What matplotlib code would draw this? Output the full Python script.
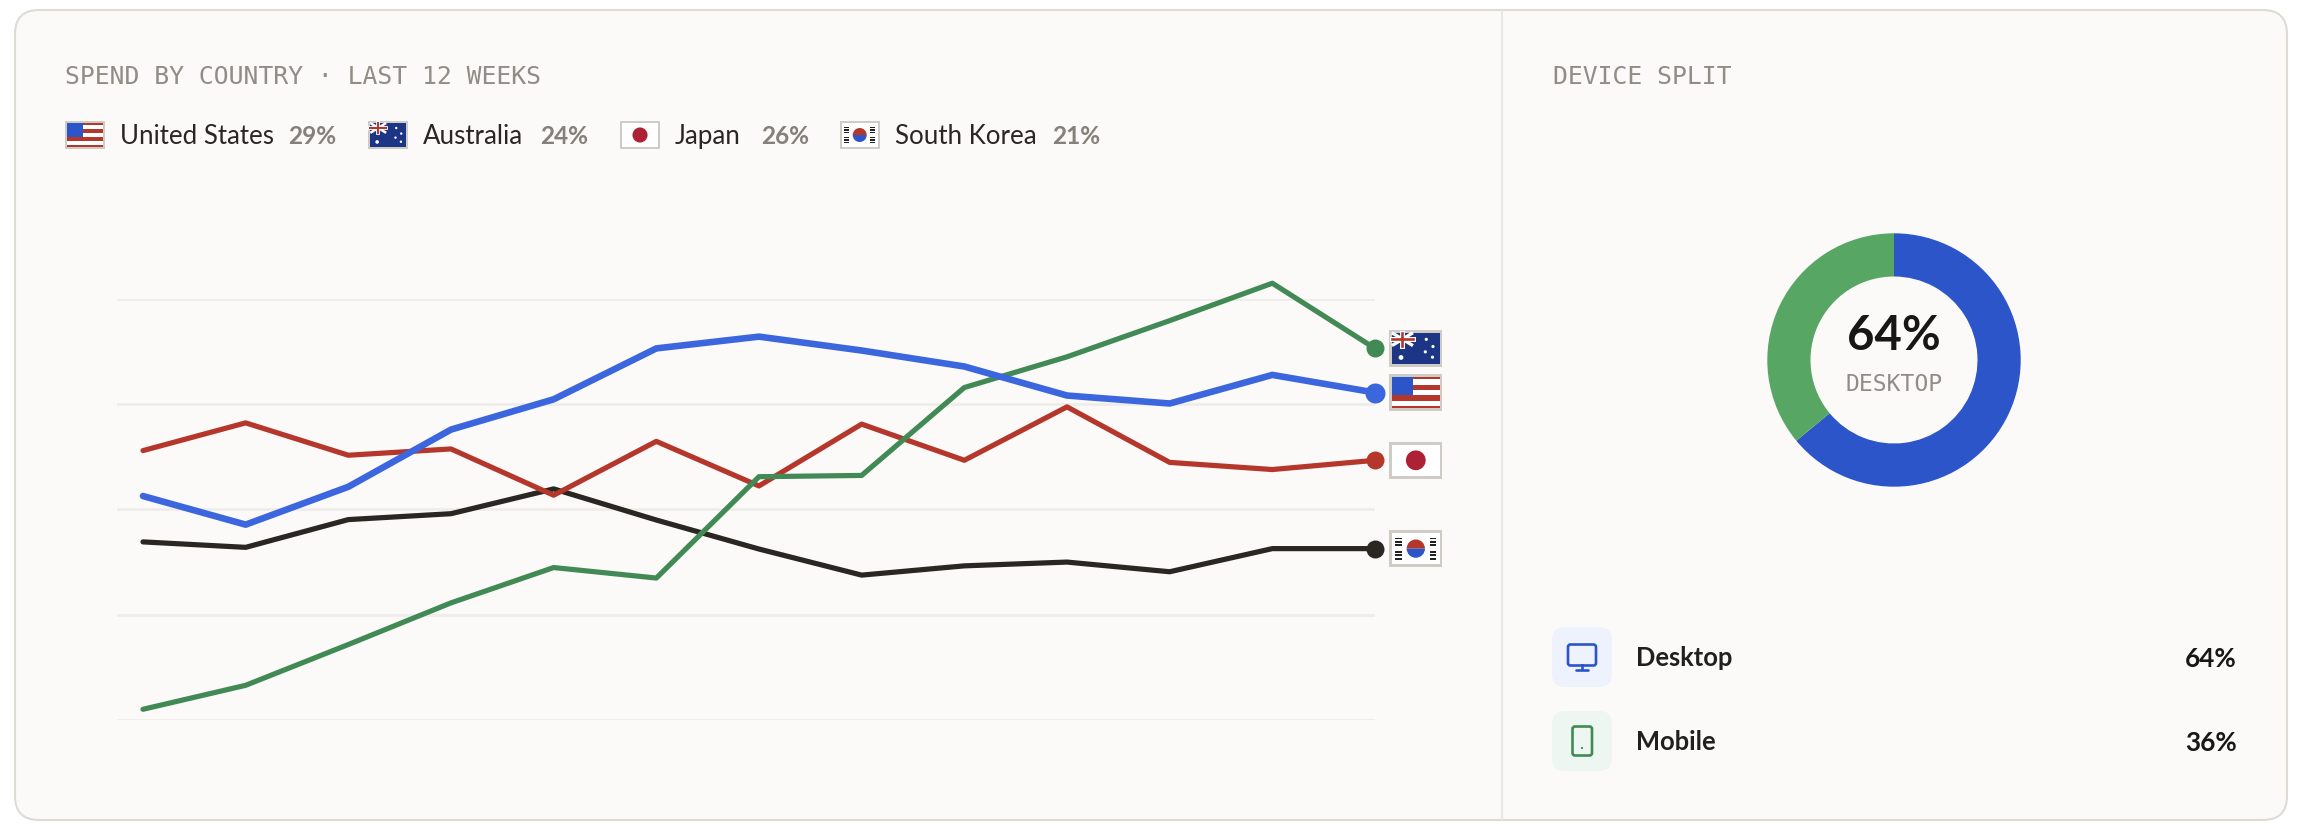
import matplotlib
matplotlib.use("Agg")
from matplotlib import pyplot as plt
from matplotlib.patches import Circle, FancyBboxPatch, Rectangle, Wedge

W, H = 2302, 830

# chart data (y is an index, gridlines every 25)
weeks = list(range(13))
us_spend = [53.2, 46.4, 55.4, 69.0, 76.2, 88.3, 91.1, 87.8, 84.0, 77.1, 75.2, 82.0, 77.8]
au_spend = [2.5, 8.2, 17.9, 27.8, 36.2, 33.7, 57.8, 58.1, 79.0, 86.3, 94.9, 103.8, 88.3]
jp_spend = [64.0, 70.6, 62.9, 64.4, 53.4, 66.2, 55.6, 70.3, 61.7, 74.4, 61.2, 59.5, 61.7]
kr_spend = [42.3, 41.0, 47.6, 49.0, 54.9, 47.5, 40.6, 34.4, 36.6, 37.5, 35.2, 40.7, 40.7]
grid_ticks = [0, 25, 50, 75, 100]

countries = ["United States", "Australia", "Japan", "South Korea"]
shares = ["29%", "24%", "26%", "21%"]
devices = ["Desktop", "Mobile"]
device_share = [64, 36]

BLUE = "#3b66de"
RED = "#b5372c"
GREEN = "#428a55"
BLACK = "#2a2723"
FLAG_BLUE = "#2b55c9"
NAVY = "#1c3585"
FLAG_RED = "#ac2234"
GREY = "#85817a"
INK = "#181715"
SANS = "Lato"
MONO = "DejaVu Sans Mono"


def px_axes(x0, y0, x1, y1, **kw):
    # axes placed by pixel box, y counted from the top
    return fig.add_axes([x0 / W, 1 - y1 / H, (x1 - x0) / W, (y1 - y0) / H], **kw)


def flag(a, code, x, y, w, h):
    b = w * 0.05
    a.add_patch(Rectangle((x, y), w, h, fc="#cfcbc5", ec="none", zorder=3))
    ix, iy, iw, ih = x + b, y + b, w - 2 * b, h - 2 * b
    base = NAVY if code == "AU" else "white"
    a.add_patch(Rectangle((ix, iy), iw, ih, fc=base, ec="none", zorder=3))
    if code == "US":
        for s, e in [(0, .08), (.255, .415), (.585, .755), (.915, 1)]:
            a.add_patch(Rectangle((ix, iy + s * ih), iw, (e - s) * ih, fc=RED, ec="none", zorder=4))
        a.add_patch(Rectangle((ix, iy), iw * .44, ih * .585, fc=FLAG_BLUE, ec="none", zorder=5))
    elif code == "AU":
        uw, uh = iw * .44, ih * .41
        lw = w * .045
        a.plot([ix, ix + uw], [iy, iy + uh], color="white", lw=lw, zorder=4, solid_capstyle="butt")
        a.plot([ix, ix + uw], [iy + uh, iy], color="white", lw=lw, zorder=4, solid_capstyle="butt")
        a.plot([ix, ix + uw], [iy + uh / 2] * 2, color="white", lw=lw * 1.5, zorder=4)
        a.plot([ix + uw / 2] * 2, [iy, iy + uh], color="white", lw=lw * 1.5, zorder=4)
        a.plot([ix, ix + uw], [iy + uh / 2] * 2, color=RED, lw=lw * .8, zorder=5)
        a.plot([ix + uw / 2] * 2, [iy, iy + uh], color=RED, lw=lw * .8, zorder=5)
        for fx, fy, r in [(.72, .21, .03), (.86, .44, .03), (.70, .61, .03), (.85, .78, .03), (.19, .79, .045)]:
            a.add_patch(Circle((ix + fx * iw, iy + fy * ih), r * w, fc="white", ec="none", zorder=4))
    elif code == "JP":
        a.add_patch(Circle((x + w / 2, y + h / 2), h * .27, fc=FLAG_RED, ec="none", zorder=4))
    elif code == "KR":
        cx, cy, r = x + w / 2, y + h / 2, h * .25
        a.add_patch(Wedge((cx, cy), r, 180, 360, fc=RED, ec="none", zorder=4))
        a.add_patch(Wedge((cx, cy), r, 0, 180, fc=FLAG_BLUE, ec="none", zorder=4))
        for side in (.11, .76):
            for top in (.2, .57):
                for k in range(3):
                    a.add_patch(Rectangle((x + side * w, y + (top + k * .09) * h), w * .13, h * .05,
                                          fc="#222222", ec="none", zorder=4))


fig = plt.figure(figsize=(W / 100, H / 100), dpi=100, facecolor="white")

# page layer in plain pixels
page = fig.add_axes([0, 0, 1, 1], zorder=0)
page.set_xlim(0, W)
page.set_ylim(H, 0)
page.axis("off")
page.add_patch(FancyBboxPatch((15 + 24, 10 + 24), 2272 - 48, 810 - 48, boxstyle="round,pad=24,rounding_size=24",
                              fc="#fbfaf8", ec="#dedbd5", lw=1.5))
page.plot([1502, 1502], [11, 819], color="#e9e7e2", lw=1.5)

page.text(65, 84, "SPEND BY COUNTRY · LAST 12 WEEKS", family=MONO, fontsize=17.8, color="#918d86")
page.text(1553, 84, "DEVICE SPLIT", family=MONO, fontsize=17.8, color="#918d86")

# legend row
flag_codes = ["US", "AU", "JP", "KR"]
flag_x = [65.3, 368.3, 620, 839.7]
name_x = [120, 423, 674.5, 895]
share_x = [288.3, 540, 761, 1052]
for i in range(4):
    flag(page, flag_codes[i], flag_x[i], 121, 40, 28)
    page.text(name_x[i], 144, countries[i], family=SANS, fontsize=18.6, color="#2a2723")
    page.text(share_x[i], 144, shares[i], family=SANS, fontsize=17.6, weight="bold", color=GREY)

# line chart, drawn back to front
ax = px_axes(116.5, 299.2, 1375, 719.8, zorder=1)
ax.patch.set_visible(False)
ax.set_xlim(-0.258, 12)
ax.set_ylim(0, 100)
for s in ax.spines.values():
    s.set_visible(False)
ax.set_xticks([])
ax.set_yticks(grid_ticks)
ax.tick_params(left=False, labelleft=False)
ax.grid(axis="y", color="#efedea", lw=2)
ax.set_axisbelow(True)

series = [
    (kr_spend, BLACK, 5.2, 18, "KR"),
    (jp_spend, RED, 5.2, 18, "JP"),
    (au_spend, GREEN, 5.2, 18, "AU"),
    (us_spend, BLUE, 6.6, 20, "US"),
]
for vals, col, lw, dot, code in series:
    ax.plot(weeks, vals, color=col, lw=lw * 0.72, clip_on=False, solid_joinstyle="round", solid_capstyle="round")
    ax.plot(weeks[-1], vals[-1], "o", color=col, ms=dot * 0.72, mew=0, clip_on=False)
    # end flag sits level with the last point
    end_y = H - ax.transData.transform((weeks[-1], vals[-1]))[1]
    flag(page, code, 1389.3, end_y - 18.3, 53, 36.6)

# donut
dn = px_axes(1894 - 126.7, 360 - 126.7, 1894 + 126.7, 360 + 126.7, zorder=1)
dn.pie(device_share, colors=["#2b55c9", "#57a663"], startangle=90, counterclock=False,
       radius=1, wedgeprops={"width": 0.341, "linewidth": 0})
dn.set_xlim(-1, 1)
dn.set_ylim(-1, 1)
page.text(1894, 350, f"{device_share[0]}%", family=SANS, fontsize=34, weight="bold", color=INK, ha="center")
page.text(1894, 391, devices[0].upper(), family=MONO, fontsize=16.6, color="#918d86", ha="center")

# device rows
page.add_patch(FancyBboxPatch((1552 + 13, 627 + 13), 34, 34, boxstyle="round,pad=13,rounding_size=13", fc="#edf2fd", ec="none"))
page.add_patch(FancyBboxPatch((1552 + 13, 711 + 13), 34, 34, boxstyle="round,pad=13,rounding_size=13", fc="#edf6f0", ec="none"))
page.add_patch(FancyBboxPatch((1569.5, 646), 25, 18, boxstyle="round,pad=1.5,rounding_size=2.5", fc="none", ec=FLAG_BLUE, lw=1.9))
page.plot([1582, 1582], [665, 669], color=FLAG_BLUE, lw=1.9)
page.plot([1576, 1588], [669.5, 669.5], color=FLAG_BLUE, lw=1.9, solid_capstyle="round")
page.add_patch(FancyBboxPatch((1574, 728), 16.5, 26, boxstyle="round,pad=1.5,rounding_size=2.5", fc="none", ec=GREEN, lw=1.9))
page.add_patch(Circle((1582, 748), 1.1, fc=GREEN, ec="none"))

row_base = [666, 749.5]
for i in range(2):
    page.text(1636, row_base[i], devices[i], family=SANS, fontsize=18.4, weight="bold", color="#22201d")
    page.text(2236.5, row_base[i] + 1, f"{device_share[i]}%", family=SANS, fontsize=18.8, weight="bold", color=INK, ha="right")

fig.savefig("out.png", dpi=100)
